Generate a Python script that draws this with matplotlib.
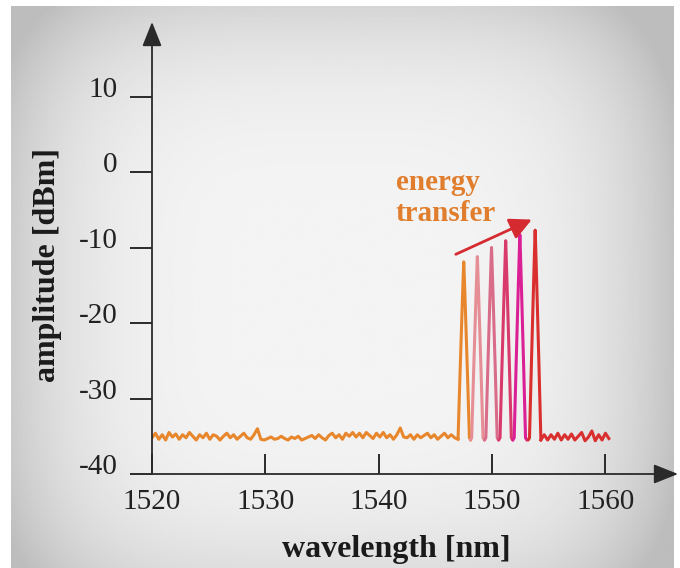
import numpy as np
import matplotlib
matplotlib.use("Agg")
import matplotlib.pyplot as plt

plt.rcParams['font.family'] = ['Liberation Serif', 'DejaVu Serif']

# --- data ---
# noise floor left of the comb (orange), sampled every 0.3 nm from 1520 nm
noise_left_start = 1520.0
noise_step = 0.3
noise_left = [
    -35.2, -34.6, -35.4, -34.8, -35.5, -34.5, -35.1, -34.7, -35.4, -34.8, -35.2,
    -34.5, -35.0, -35.5, -34.8, -35.2, -34.6, -35.4, -34.8, -35.0, -35.5, -35.0,
    -34.6, -35.2, -34.8, -35.4, -35.0, -34.6, -35.2, -35.4, -34.8, -34.0, -35.4,
    -35.5, -35.3, -35.1, -35.4, -35.3, -35.0, -35.3, -35.5, -35.1, -35.3, -35.0,
    -35.5, -35.3, -35.1, -34.9, -35.3, -34.8, -35.2, -35.5, -34.9, -34.6, -35.2,
    -34.8, -35.4, -34.6, -35.0,
    -34.5, -35.1, -34.6, -35.2, -34.5, -34.9, -35.3, -34.6, -35.1, -34.5, -35.2,
    -34.8, -35.4, -34.8, -33.9, -35.1, -35.2, -34.8, -35.4, -34.8, -35.2, -34.9,
    -34.6, -35.2, -34.8, -35.4, -35.0, -34.6, -35.2, -34.8, -35.2, -35.4,
]
# noise floor right of the comb (red)
noise_right_start = 1554.3
noise_right = [
    -35.5, -34.8, -35.5, -34.8, -35.4, -34.6, -35.5, -34.8, -35.4, -34.7, -35.5,
    -35.0, -34.5, -35.6, -35.1, -34.3, -35.6, -34.8, -35.5, -34.6, -35.3,
]

# comb lines
peak_wl = [1547.5, 1548.7, 1549.95, 1551.2, 1552.45, 1553.8]
peak_dbm = [-11.9, -11.2, -10.0, -9.1, -8.3, -7.7]
peak_colors = ['#e8862c', '#e68e96', '#d96c88', '#d93a6c', '#db1f95', '#d92f2f']
floor_dbm = -35.2
valley_dbm = -35.5
# line profile around each peak: offset [nm], fraction of peak height above floor
profile_dx = [-0.62, -0.5, -0.33, -0.13, -0.03, 0.0, 0.03, 0.13, 0.33, 0.5, 0.62]
profile_frac = [None, 0.0, 0.36, 0.76, 0.95, 1.0, 0.95, 0.76, 0.36, 0.0, None]

xticks = [1520, 1530, 1540, 1550, 1560]
yticks = [-40, -30, -20, -10, 0, 10]

W, H = 680, 568
fig = plt.figure(figsize=(W / 100, H / 100), dpi=100)
fig.patch.set_facecolor('white')

# grey vignette panel
bg = fig.add_axes([11 / W, 0, 663 / W, 562 / H])
gx, gy = np.meshgrid(np.linspace(11, 674, 400), np.linspace(6, 568, 340))
dx = (gx - 335) / 340
dy = (gy - 300) / 330
shade = 0.955 - 0.19 * (dx ** 4 + dy ** 4)
shade = np.clip(shade, 0.74, 1)
bg.imshow(shade, cmap='gray', vmin=0, vmax=1, aspect='auto', interpolation='bilinear')
bg.axis('off')

ax = fig.add_axes([152 / W, 1 - 474 / H, (678 - 152) / W, (474 - 22) / H])
ax.set_facecolor('none')
ax.set_xlim(1520, 1566.4)
ax.set_ylim(-40, 19.87)
for s in ax.spines.values():
    s.set_visible(False)

lw = 2.2
xl = noise_left_start + noise_step * np.arange(len(noise_left))
ax.plot(xl, noise_left, color=peak_colors[0], lw=lw, solid_joinstyle='round')
xr = noise_right_start + noise_step * np.arange(len(noise_right))
ax.plot(xr, noise_right, color=peak_colors[-1], lw=lw, solid_joinstyle='round')

for i, (c, top, col) in enumerate(zip(peak_wl, peak_dbm, peak_colors)):
    px, py = [], []
    for d, f in zip(profile_dx, profile_frac):
        if f is None:
            if (d < 0 and i == 0) or (d > 0 and i == len(peak_wl) - 1):
                continue
            px.append(c + d)
            py.append(valley_dbm)
        else:
            px.append(c + d)
            py.append(floor_dbm + f * (top - floor_dbm))
    if i == 0:
        px.insert(0, xl[-1])
        py.insert(0, noise_left[-1])
    if i == len(peak_wl) - 1:
        px.append(xr[0])
        py.append(noise_right[0])
    ax.plot(px, py, color=col, lw=lw, solid_joinstyle='round', solid_capstyle='round')

# axes with arrow heads
axis_col = '#2a2a2a'
arr = dict(arrowstyle='-|>,head_length=0.5,head_width=0.2', mutation_scale=30,
           lw=1.3, color=axis_col, shrinkA=0, shrinkB=0)
ax.annotate('', xy=(0, 1), xytext=(0, 0), xycoords='axes fraction', arrowprops=arr)
ax.annotate('', xy=(1, 0), xytext=(0, 0), xycoords='axes fraction', arrowprops=arr)

ax.set_xticks(xticks)
ax.set_yticks(yticks)
ax.set_xticklabels([str(v) for v in xticks])
ax.set_yticklabels([str(v) for v in yticks])
ax.tick_params(axis='x', direction='in', length=14.5, width=1.4, color=axis_col,
               pad=11, labelsize=21, labelcolor='#222222')
ax.tick_params(axis='y', direction='out', length=16, width=1.4, color=axis_col,
               pad=9, labelsize=21, labelcolor='#222222')
for lbl in ax.get_yticklabels():
    lbl.set_verticalalignment('baseline')

# annotation
ax.text(1541.5, -3.4, 'energy\ntransfer', ha='left', va='center', fontsize=21,
        fontweight='bold', color='#e07e2e', linespacing=1.2)
ax.annotate('', xy=(1553.5, -6.3), xytext=(1546.8, -10.9),
            arrowprops=dict(arrowstyle='-|>,head_length=0.6,head_width=0.3',
                            mutation_scale=22, lw=2, color='#d42a30',
                            shrinkA=0, shrinkB=0))

fig.text(396 / W, 1 - 549 / H, 'wavelength [nm]', ha='center', va='center',
         fontsize=23, fontweight='bold', color='#1a1a1a')
fig.text(48 / W, 1 - 265 / H, 'amplitude [dBm]', ha='center', va='center',
         rotation=90, fontsize=23, fontweight='bold', color='#1a1a1a')

fig.savefig('out.png', dpi=100, facecolor=fig.get_facecolor())
